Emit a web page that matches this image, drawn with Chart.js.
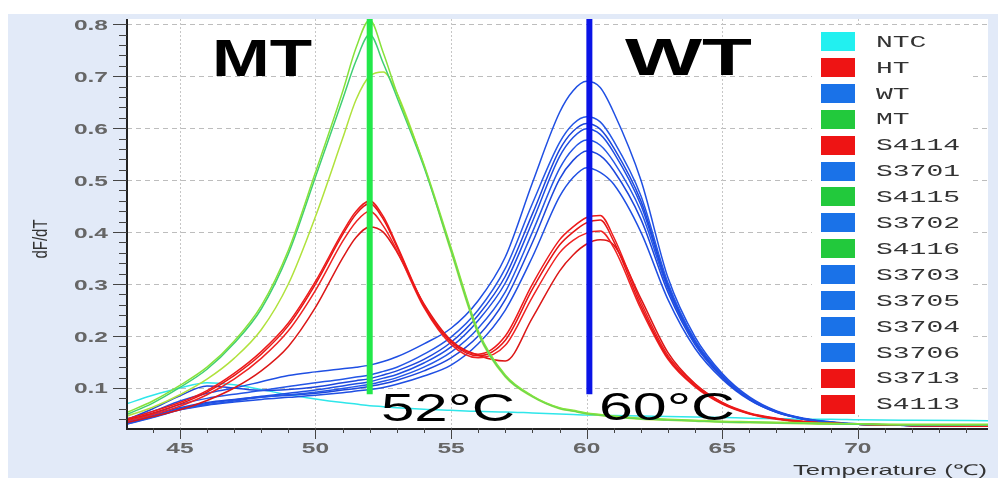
<!DOCTYPE html>
<html>
<head>
<meta charset="utf-8">
<title>dF/dT</title>
<script src="https://cdn.jsdelivr.net/npm/chart.js@4.4.1/dist/chart.umd.min.js"></script>
<style>
  html, body { margin:0; padding:0; background:#fff; }
  canvas { display:block; }
</style>
</head>
<body>
<canvas id="melt" width="998" height="478"></canvas>
<script>
/* curvas de fusão (dF/dT x temperatura) — valores lidos por amostra */
const temps = [43,44,45,46,47,48,49,50,51,51.5,52,52.5,53,54,55,56,57,58,59,59.5,60,60.5,61,62,63,64,65,66,67,68,69,70,72,75];

const ntc   = [0.069,0.086,0.100,0.110,0.106,0.097,0.087,0.079,0.072,0.069,0.066,0.064,0.062,0.059,0.057,0.055,0.054,0.052,0.050,0.049,0.048,0.0475,0.047,0.046,0.045,0.044,0.043,0.042,0.041,0.040,0.040,0.039,0.038,0.037];
const ht    = [0.040,0.055,0.072,0.095,0.128,0.170,0.225,0.305,0.400,0.440,0.460,0.430,0.375,0.260,0.190,0.165,0.200,0.300,0.385,0.410,0.428,0.432,0.390,0.265,0.162,0.107,0.072,0.052,0.042,0.036,0.032,0.030,0.028,0.027];
const wt    = [0.040,0.055,0.075,0.090,0.100,0.112,0.124,0.131,0.137,0.140,0.144,0.151,0.160,0.185,0.215,0.268,0.352,0.495,0.630,0.672,0.690,0.678,0.630,0.500,0.312,0.198,0.128,0.083,0.056,0.042,0.035,0.031,0.028,0.027];
const mt    = [0.052,0.075,0.105,0.140,0.190,0.258,0.365,0.515,0.670,0.755,0.808,0.745,0.668,0.530,0.370,0.210,0.125,0.085,0.062,0.057,0.052,0.049,0.046,0.042,0.040,0.038,0.036,0.035,0.034,0.033,0.032,0.031,0.030,0.030];
const s4114 = [0.038,0.052,0.069,0.092,0.124,0.165,0.220,0.300,0.395,0.435,0.455,0.425,0.372,0.258,0.188,0.162,0.192,0.290,0.375,0.400,0.418,0.423,0.382,0.258,0.158,0.104,0.070,0.051,0.041,0.035,0.032,0.030,0.028,0.027];
const s3701 = [0.035,0.050,0.068,0.080,0.088,0.095,0.103,0.110,0.117,0.121,0.125,0.132,0.140,0.165,0.198,0.250,0.330,0.455,0.572,0.608,0.622,0.612,0.575,0.470,0.302,0.192,0.125,0.081,0.055,0.041,0.034,0.030,0.028,0.027];
const s4115 = [0.048,0.071,0.101,0.136,0.186,0.252,0.358,0.506,0.655,0.730,0.780,0.725,0.660,0.525,0.366,0.207,0.123,0.084,0.061,0.056,0.051,0.048,0.045,0.041,0.039,0.037,0.035,0.034,0.033,0.032,0.031,0.030,0.029,0.029];
const s3702 = [0.038,0.060,0.085,0.104,0.100,0.095,0.097,0.102,0.110,0.114,0.118,0.125,0.133,0.155,0.188,0.240,0.315,0.435,0.558,0.594,0.609,0.598,0.562,0.460,0.298,0.190,0.124,0.080,0.055,0.041,0.034,0.030,0.028,0.027];
const s4116 = [0.045,0.063,0.087,0.117,0.157,0.212,0.300,0.430,0.580,0.655,0.700,0.708,0.668,0.528,0.362,0.204,0.121,0.083,0.060,0.055,0.050,0.047,0.044,0.040,0.038,0.036,0.034,0.033,0.032,0.031,0.030,0.030,0.029,0.029];
const s3703 = [0.032,0.045,0.060,0.070,0.077,0.084,0.090,0.096,0.104,0.108,0.112,0.119,0.126,0.148,0.179,0.230,0.302,0.420,0.545,0.582,0.599,0.588,0.553,0.452,0.294,0.188,0.123,0.080,0.054,0.041,0.034,0.030,0.028,0.027];
const s3705 = [0.030,0.043,0.058,0.068,0.075,0.082,0.087,0.092,0.099,0.103,0.107,0.113,0.120,0.140,0.169,0.215,0.285,0.400,0.522,0.560,0.577,0.567,0.535,0.440,0.290,0.186,0.122,0.079,0.054,0.040,0.033,0.030,0.028,0.027];
const s3704 = [0.033,0.047,0.062,0.072,0.078,0.083,0.086,0.090,0.096,0.099,0.103,0.108,0.115,0.133,0.158,0.200,0.270,0.380,0.502,0.538,0.556,0.547,0.518,0.425,0.284,0.183,0.120,0.078,0.053,0.040,0.033,0.030,0.028,0.027];
const s3706 = [0.030,0.044,0.058,0.067,0.073,0.078,0.082,0.086,0.091,0.094,0.097,0.101,0.107,0.123,0.144,0.185,0.250,0.352,0.468,0.505,0.524,0.515,0.492,0.400,0.270,0.176,0.117,0.077,0.053,0.040,0.033,0.030,0.028,0.027];
const s3713 = [0.036,0.049,0.065,0.087,0.117,0.157,0.210,0.288,0.382,0.420,0.440,0.412,0.365,0.255,0.184,0.158,0.182,0.275,0.360,0.384,0.398,0.402,0.370,0.252,0.155,0.102,0.069,0.050,0.040,0.035,0.032,0.030,0.028,0.027];
const s4113 = [0.033,0.045,0.058,0.076,0.100,0.133,0.180,0.255,0.350,0.390,0.410,0.400,0.362,0.262,0.192,0.163,0.152,0.235,0.325,0.356,0.377,0.385,0.375,0.272,0.168,0.108,0.072,0.051,0.041,0.035,0.032,0.030,0.028,0.027];

/* Tm de cada genótipo e faixa vertical do marcador */
const meltPeaks   = [52, 60.1];
const peakLabels  = ['52°C', '60°C'];
const markerRange = [0.088, 0.81];

const xTicks = [45, 50, 55, 60, 65, 70];
const yTicks = [0.1, 0.2, 0.3, 0.4, 0.5, 0.6, 0.7, 0.8];

const RED = '#ee1a1a', BLUE = '#1f4fe3', CYAN = '#2fe6ea';
const SW = { red:'#ee1414', blue:'#1a72e8', green:'#22c93c', cyan:'#22f0f0' };

// nome, valores, cor da linha, cor no quadro, camada
const samples = [
  ['NTC',   ntc,   CYAN,      SW.cyan,  4],
  ['HT',    ht,    RED,       SW.red,   2],
  ['WT',    wt,    BLUE,      SW.blue,  3],
  ['MT',    mt,    '#86e23a', SW.green, 1],
  ['S4114', s4114, '#e51616', SW.red,   2],
  ['S3701', s3701, '#2456e6', SW.blue,  3],
  ['S4115', s4115, '#3fcf73', SW.green, 1],
  ['S3702', s3702, '#1d47dc', SW.blue,  3],
  ['S4116', s4116, '#b0e23c', SW.green, 1],
  ['S3703', s3703, BLUE,      SW.blue,  3],
  ['S3705', s3705, '#2456e6', SW.blue,  3],
  ['S3704', s3704, '#1d47dc', SW.blue,  3],
  ['S3706', s3706, BLUE,      SW.blue,  3],
  ['S3713', s3713, '#f02222', SW.red,   2],
  ['S4113', s4113, '#dc1616', SW.red,   2],
];

/* texto esticado na horizontal (o gráfico original é "largo") */
function stretchText(ctx, s, x, y, sx, align){
  ctx.save();
  ctx.translate(x, y);
  ctx.scale(sx, 1);
  ctx.textAlign = align || 'left';
  ctx.fillText(s, 0, 0);
  ctx.restore();
}
function fitText(ctx, s, left, baseline, width){
  const w = ctx.measureText(s).width;
  stretchText(ctx, s, left, baseline, width / w, 'left');
}

const frame = {
  id: 'frame',
  beforeDraw(chart){
    const { ctx, chartArea: a, scales: { x, y } } = chart;
    ctx.save();
    ctx.fillStyle = '#fff';
    ctx.fillRect(0, 0, chart.width, chart.height);
    ctx.fillStyle = '#e2eaf8';
    ctx.fillRect(8, 14, chart.width - 8, chart.height - 14);
    ctx.fillStyle = '#fff';
    ctx.fillRect(a.left, a.top, a.right - a.left, a.bottom - a.top);

    // grade: tracejada em y, pontilhada em x
    ctx.lineWidth = 1;
    ctx.strokeStyle = '#bdbdbd';
    ctx.setLineDash([5, 4]);
    yTicks.forEach(v => {
      const py = Math.round(y.getPixelForValue(v)) + 0.5;
      ctx.beginPath(); ctx.moveTo(a.left, py); ctx.lineTo(a.right, py); ctx.stroke();
    });
    ctx.strokeStyle = '#c6c6c6';
    ctx.setLineDash([2, 2]);
    xTicks.forEach(v => {
      const px = Math.round(x.getPixelForValue(v)) + 0.5;
      ctx.beginPath(); ctx.moveTo(px, a.top); ctx.lineTo(px, a.bottom); ctx.stroke();
    });
    ctx.restore();
  },
  afterDatasetsDraw(chart){
    const { ctx, chartArea: a, scales: { x, y } } = chart;
    ctx.save();

    // eixos
    ctx.strokeStyle = '#222';
    ctx.lineWidth = 2;
    ctx.beginPath();
    ctx.moveTo(a.left, a.top); ctx.lineTo(a.left, a.bottom + 1); ctx.lineTo(a.right, a.bottom + 1);
    ctx.stroke();

    // ticks maiores e menores
    ctx.lineWidth = 1;
    ctx.strokeStyle = '#444';
    for (let v = 44; v <= 74; v++){
      const px = Math.round(x.getPixelForValue(v)) + 0.5;
      const len = v % 5 === 0 ? 11 : 5;
      ctx.beginPath(); ctx.moveTo(px, a.bottom); ctx.lineTo(px, a.bottom + len); ctx.stroke();
    }
    for (let k = 2; k <= 40; k++){
      const v = k / 50;
      const py = Math.round(y.getPixelForValue(v)) + 0.5;
      const len = k % 5 === 0 ? 14 : 8;
      ctx.beginPath(); ctx.moveTo(a.left - len, py); ctx.lineTo(a.left, py); ctx.stroke();
    }

    // rótulos dos ticks
    ctx.fillStyle = '#666';
    ctx.font = 'bold 14px "Liberation Sans", Arial, sans-serif';
    ctx.textBaseline = 'alphabetic';
    yTicks.forEach(v => stretchText(ctx, v.toFixed(1), 108, y.getPixelForValue(v) + 5.5, 1.75, 'right'));
    xTicks.forEach(v => stretchText(ctx, String(v), x.getPixelForValue(v), 453, 1.75, 'center'));

    // títulos dos eixos
    ctx.fillStyle = '#333';
    ctx.font = '15px "Liberation Sans", Arial, sans-serif';
    ctx.save();
    ctx.translate(47, 239);
    ctx.scale(1.35, 1);
    ctx.rotate(-Math.PI / 2);
    ctx.textAlign = 'center';
    ctx.fillText('dF/dT', 0, 0);
    ctx.restore();
    fitText(ctx, 'Temperature (℃)', 793, 475, 194);

    // genótipos e Tm
    ctx.fillStyle = '#000';
    ctx.font = 'bold 51px "Liberation Sans", Arial, sans-serif';
    fitText(ctx, 'MT', 212, 76, 100);
    fitText(ctx, 'WT', 625, 75, 127);
    ctx.font = '39px "Liberation Sans", Arial, sans-serif';
    fitText(ctx, peakLabels[0], 381, 421, 134);
    fitText(ctx, peakLabels[1], 599, 420, 136);

    // quadro de legenda
    ctx.fillStyle = '#fff';
    ctx.fillRect(812, 27, 158, 387);
    ctx.font = '16px "Liberation Mono", "Courier New", monospace';
    ctx.textBaseline = 'middle';
    samples.forEach(([name, , , sw], i) => {
      const cy = 41.5 + i * 25.9;
      ctx.fillStyle = sw;
      ctx.fillRect(821, Math.round(cy - 9.5), 34, 19);
      ctx.fillStyle = '#333';
      stretchText(ctx, name, 876, cy + 1, 1.75, 'left');
    });

    ctx.restore();
  }
};

const datasets = samples.map(([name, values, color, , layer]) => ({
  label: name,
  data: values,
  borderColor: color,
  borderWidth: 1.5,
  pointRadius: 0,
  cubicInterpolationMode: 'monotone',
  order: layer
}));

const markerColors = ['#22e84a', '#0a14e6'];
meltPeaks.forEach((t, i) => datasets.push({
  label: peakLabels[i],
  data: markerRange.map(v => ({ x: t, y: v })),
  borderColor: markerColors[i],
  borderWidth: 6,
  borderCapStyle: 'butt',
  pointRadius: 0,
  tension: 0,
  order: 0
}));

new Chart(document.getElementById('melt'), {
  type: 'line',
  data: { labels: temps, datasets },
  options: {
    responsive: false,
    devicePixelRatio: 1,
    animation: false,
    events: [],
    layout: { padding: { left:127, top:19, right:10, bottom:50 } },
    scales: {
      x: { type:'linear', display:false, min:43.05, max:74.8 },
      y: { type:'linear', display:false, min:0.023, max:0.81 }
    },
    plugins: { legend:{ display:false }, tooltip:{ enabled:false } }
  },
  plugins: [frame]
});
</script>
</body>
</html>
